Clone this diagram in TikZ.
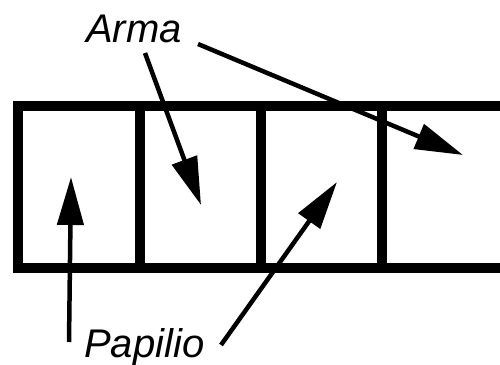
\documentclass[tikz,border=0pt]{standalone}
\usepackage{fontspec}
\setmainfont{Liberation Sans}
\usetikzlibrary{arrows.meta}
\tikzset{
  frameline/.style={line width=10pt, line cap=rect},
  pointer/.style={line width=4.5pt, -{Triangle[length=48pt,width=26pt]}},
  label/.style={font=\fontsize{40}{41}\selectfont\itshape, inner sep=0pt}
}
\begin{document}
\begin{tikzpicture}[x=1pt,y=-1pt]
\useasboundingbox (0,0) rectangle (500,364);
\begin{scope}
\clip (0,0) rectangle (500,364);
\draw[frameline] (18,105.5) -- (520,105.5);
\draw[frameline] (18,267.5) -- (520,267.5);
\draw[frameline] (18,105.5) -- (18,267.5);
\draw[frameline] (139.5,105.5) -- (139.5,267.5);
\draw[frameline] (260.5,105.5) -- (260.5,267.5);
\draw[frameline] (382,105.5) -- (382,267.5);
\end{scope}
\node[label, anchor=base west] (arma) at (86,42) {Arma};
\node[label, anchor=base west] (papilio) at (84,357) {Papilio};
\coordinate (a1s) at (145,53);
\coordinate (a1t) at (201,205);
\coordinate (a2s) at (198,44);
\coordinate (a2t) at (463,155);
\coordinate (p1s) at (69,342);
\coordinate (p1t) at (71,177);
\coordinate (p2s) at (221,345);
\coordinate (p2t) at (337,182);
\draw[pointer] (a1s) -- (a1t);
\draw[pointer] (a2s) -- (a2t);
\draw[pointer] (p1s) -- (p1t);
\draw[pointer] (p2s) -- (p2t);
\end{tikzpicture}
\end{document}
